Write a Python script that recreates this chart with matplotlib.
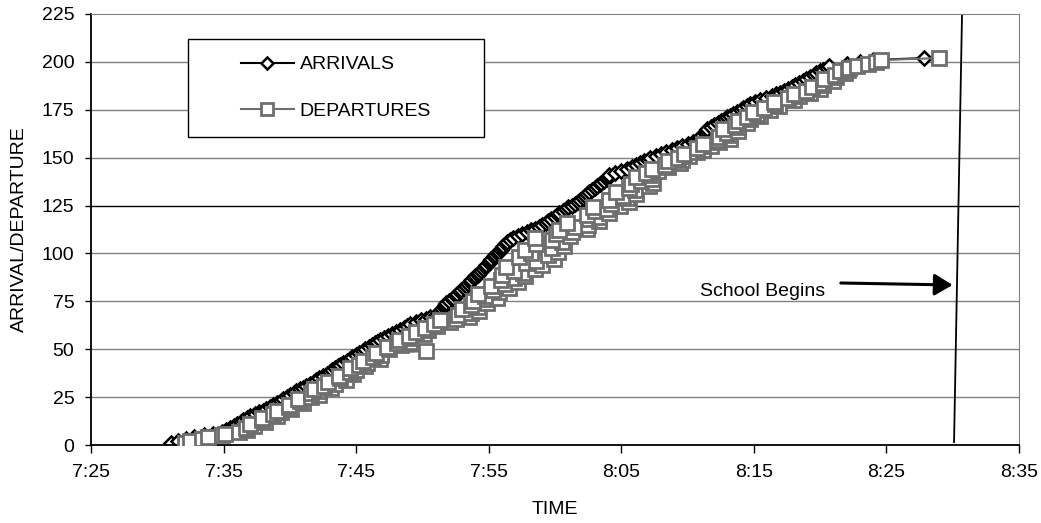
import matplotlib
matplotlib.use('Agg')
import matplotlib.pyplot as plt
from matplotlib.patches import Rectangle
from matplotlib.ticker import FuncFormatter

plt.rcParams['font.family'] = ['Liberation Sans', 'DejaVu Sans']

# times are minutes after 7:00, one entry per vehicle (vehicle number = y)
arrivals = [31.0, 31.6, 32.2, 32.8, 33.5, 34.2, 34.9, 35.2, 35.5, 35.8,
            36.0, 36.3, 36.5, 36.8, 37.0, 37.4, 37.7, 38.0, 38.2, 38.5,
            38.7, 39.0, 39.3, 39.5, 39.8, 40.0, 40.3, 40.5, 40.8, 41.0,
            41.2, 41.5, 41.8, 42.0, 42.2, 42.5, 42.8, 43.0, 43.2, 43.4,
            43.6, 43.8, 44.0, 44.3, 44.5, 44.7, 45.0, 45.2, 45.5, 45.7,
            46.0, 46.2, 46.4, 46.6, 46.8, 47.1, 47.4, 47.7, 48.0, 48.3,
            48.6, 48.8, 49.1, 49.5, 49.9, 50.3, 50.6, 51.0, 51.2, 51.3,
            51.5, 51.6, 51.7, 51.8, 52.0, 52.2, 52.3, 52.5, 52.6, 52.8,
            52.9, 53.1, 53.3, 53.4, 53.6, 53.7, 53.9, 54.0, 54.2, 54.3,
            54.4, 54.6, 54.7, 54.8, 55.0, 55.1, 55.2, 55.4, 55.5, 55.6,
            55.8, 55.9, 56.0, 56.1, 56.3, 56.4, 56.6, 56.8, 57.2, 57.5,
            57.9, 58.2, 58.5, 58.8, 59.0, 59.3, 59.5, 59.7, 60.0, 60.2,
            60.3, 60.6, 60.8, 61.0, 61.3, 61.5, 61.7, 61.9, 62.1, 62.3,
            62.4, 62.6, 62.8, 63.0, 63.2, 63.4, 63.5, 63.7, 63.9, 64.0,
            64.1, 64.5, 65.0, 65.4, 65.8, 66.1, 66.4, 66.7, 67.0, 67.2,
            67.6, 68.0, 68.4, 68.8, 69.2, 69.6, 70.0, 70.4, 70.7, 70.9,
            71.0, 71.1, 71.3, 71.4, 71.5, 71.8, 72.0, 72.3, 72.5, 72.8,
            73.0, 73.2, 73.4, 73.7, 74.0, 74.2, 74.5, 74.7, 75.1, 75.5,
            75.9, 76.4, 76.7, 77.0, 77.3, 77.6, 77.9, 78.1, 78.4, 78.7,
            78.9, 79.2, 79.5, 79.7, 80.0, 80.2, 80.5, 80.7, 82.0, 83.0,
            84.0, 87.8]

departures = [32.1, 32.5, 33.4, 33.8, 34.9, 35.1, 36.2, 36.8, 36.7, 37.3,
              37.0, 38.1, 37.9, 37.9, 39.0, 38.7, 39.3, 39.0, 40.1, 39.9,
              39.9, 41.0, 40.8, 40.6, 41.6, 42.2, 41.6, 42.2, 41.8, 43.1,
              42.6, 43.4, 42.9, 44.2, 43.8, 43.7, 44.8, 44.5, 45.0, 44.5,
              45.7, 45.2, 45.8, 45.5, 46.8, 46.3, 46.9, 46.5, 50.3, 47.5,
              47.3, 48.4, 48.1, 49.1, 48.2, 49.1, 49.0, 50.1, 49.5, 50.4,
              50.2, 51.1, 50.9, 52.1, 51.3, 52.5, 53.5, 52.7, 53.7, 54.3,
              53.0, 54.2, 53.7, 54.9, 53.8, 54.9, 55.6, 54.7, 54.2, 55.8,
              55.3, 56.5, 55.2, 56.2, 57.2, 55.9, 56.9, 57.7, 56.0, 57.6,
              56.9, 58.5, 56.3, 59.0, 57.8, 58.6, 59.9, 57.3, 59.5, 58.2,
              60.2, 57.7, 59.8, 60.7, 58.6, 60.5, 59.8, 58.5, 61.1, 60.1,
              61.3, 60.3, 62.4, 61.5, 62.5, 60.9, 63.3, 62.6, 63.3, 62.4,
              64.1, 63.0, 63.9, 62.9, 64.9, 64.2, 65.6, 64.1, 65.4, 65.1,
              66.1, 64.6, 66.0, 65.6, 67.1, 65.7, 67.4, 66.5, 67.3, 66.1,
              67.1, 66.9, 67.8, 67.3, 68.5, 68.3, 69.4, 68.5, 69.6, 69.3,
              70.1, 69.7, 70.7, 71.2, 70.7, 71.8, 71.2, 72.4, 72.3, 73.2,
              72.4, 73.2, 73.0, 73.8, 72.7, 73.8, 73.6, 74.5, 73.8, 74.7,
              74.5, 75.5, 75.2, 74.9, 76.2, 75.8, 76.9, 76.6, 76.5, 78.0,
              77.6, 78.4, 78.0, 79.2, 78.9, 80.0, 79.4, 80.2, 80.2, 81.0,
              80.3, 81.2, 81.1, 81.9, 81.5, 82.1, 82.2, 82.8, 83.6, 84.2,
              84.6, 89.0]

vehicle = list(range(1, len(arrivals) + 1))

x_ticks = [25, 35, 45, 55, 65, 75, 85, 95]
y_ticks = [0, 25, 50, 75, 100, 125, 150, 175, 200, 225]

school_line_x = [90.1, 90.7]
school_line_y = [1.5, 224]

fig = plt.figure(figsize=(10.41, 5.23), dpi=100)
ax = fig.add_axes([91 / 1041, 78 / 523, 928 / 1041, 431 / 523])

gray = '#808080'
sq_gray = '#6e6e6e'
for yv in y_ticks[1:-1]:
    ax.axhline(yv, color='black' if yv == 125 else gray, lw=1, zorder=0)

ax.plot(arrivals, vehicle, color='black', lw=1.5, marker='D', ms=7.5,
        mfc='white', mec='black', mew=1.8, label='ARRIVALS', zorder=2)
ax.plot(departures, vehicle, color=sq_gray, lw=1.5, marker='s', ms=9.5,
        mfc='white', mec=sq_gray, mew=2, label='DEPARTURES', zorder=3)

ax.plot(school_line_x, school_line_y, color='black', lw=1.3, zorder=4)
ax.annotate('', xy=(90.2, 83.5), xytext=(81.35, 84.6),
            arrowprops=dict(arrowstyle='-|>,head_length=0.55,head_width=0.33',
                            mutation_scale=20, lw=2.2, color='black'))
ax.text(80.4, 80.2, 'School Begins', ha='right', va='center', fontsize=14)

ax.set_xlim(25, 95)
ax.set_ylim(0, 225)
ax.set_xticks(x_ticks)
ax.set_yticks(y_ticks)
ax.xaxis.set_major_formatter(FuncFormatter(
    lambda v, p: '%d:%02d' % (7 + int(v) // 60, int(v) % 60)))
ax.tick_params(axis='x', direction='out', length=6, width=1, pad=8, labelsize=14)
ax.tick_params(axis='y', direction='out', length=4, width=1, pad=8, labelsize=14)

ax.spines['top'].set_color(gray)
ax.spines['right'].set_color(gray)
ax.spines['left'].set_linewidth(1.3)
ax.spines['bottom'].set_linewidth(1.3)

ax.set_xlabel('TIME', fontsize=14, labelpad=14)
ax.set_ylabel('ARRIVAL/DEPARTURE', fontsize=14, labelpad=10)

box = Rectangle((0.1045, 0.7146), 0.319, 0.2274, transform=ax.transAxes,
                facecolor='white', edgecolor='black', lw=1, zorder=5)
ax.add_patch(box)
ax.legend(loc='center', bbox_to_anchor=(0.1045 + 0.319 / 2, 0.7146 + 0.2274 / 2),
          frameon=False, fontsize=14, handlelength=2.7, handletextpad=0.3,
          labelspacing=1.5, markerscale=0.85).set_zorder(6)

fig.savefig('out.png', dpi=100)
